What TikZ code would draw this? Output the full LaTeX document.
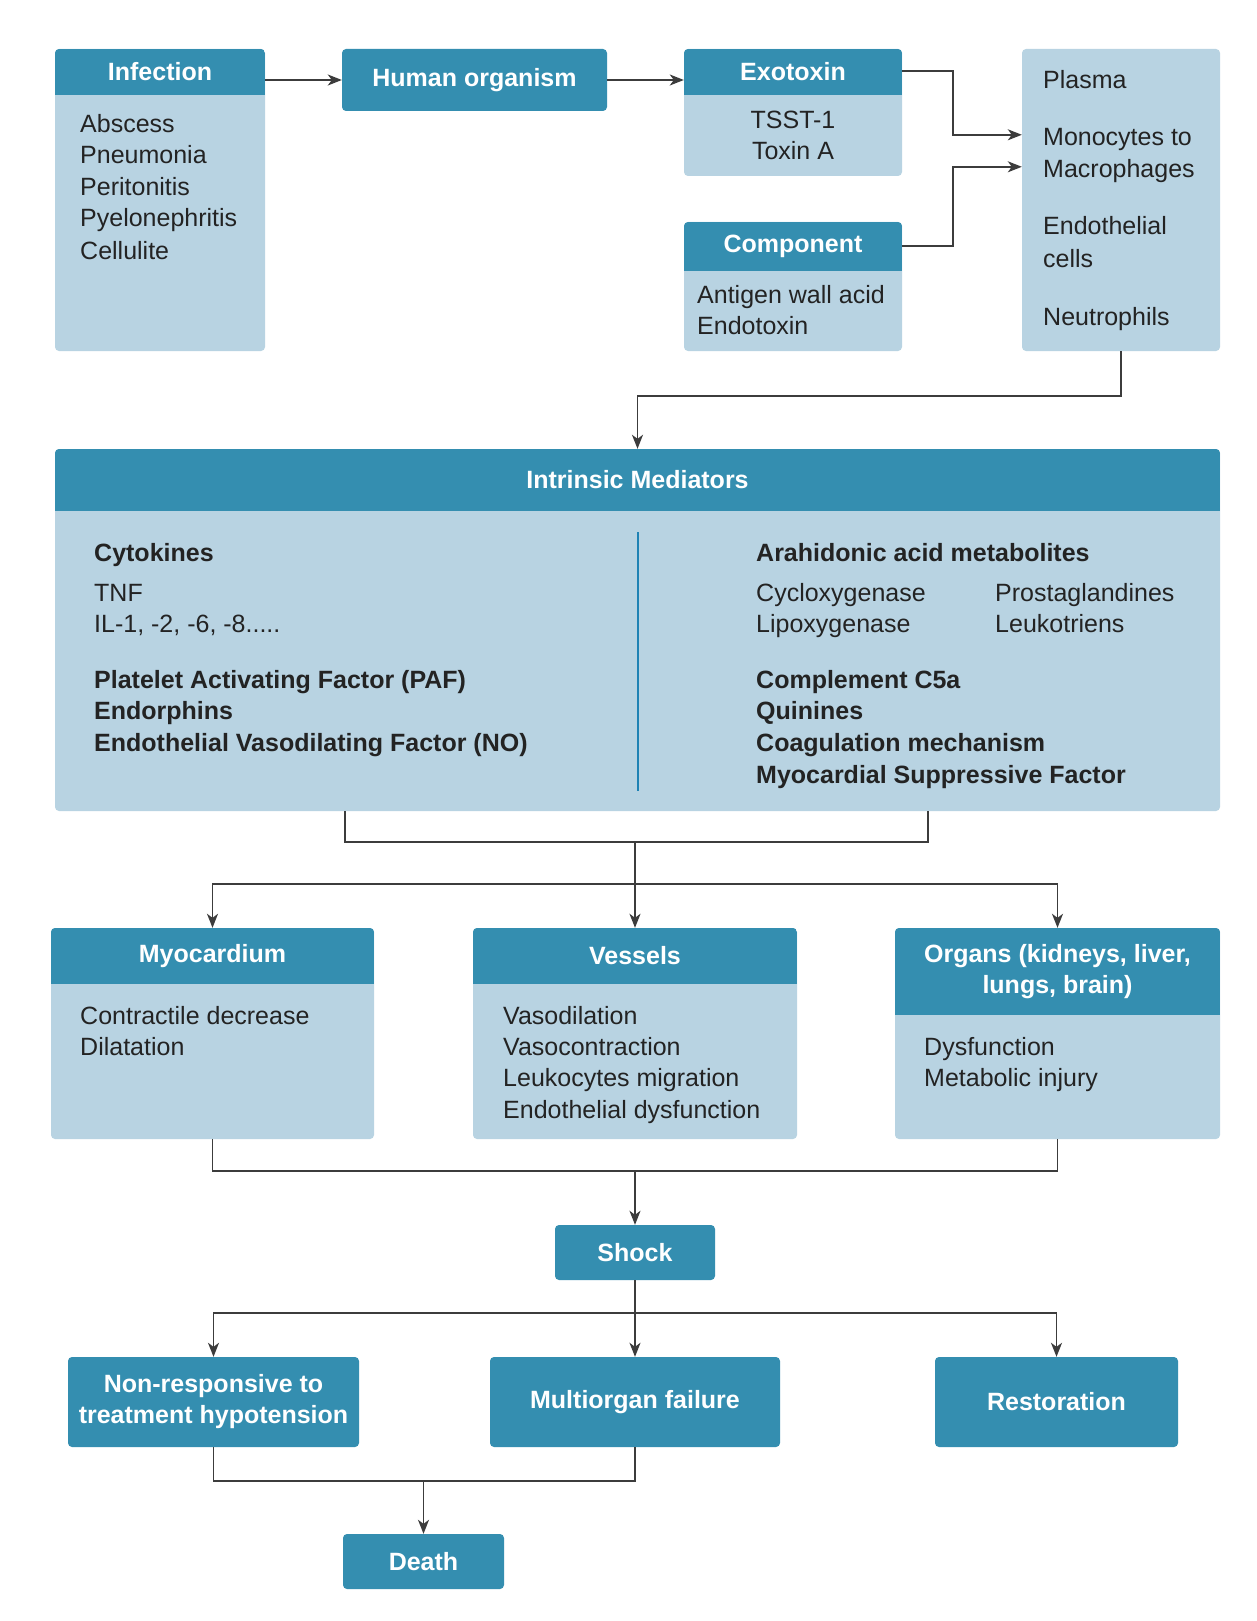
\documentclass[tikz,border=0pt]{standalone}
\usepackage{fontspec}
\setmainfont{Liberation Sans}
\usetikzlibrary{arrows.meta,fit}
\definecolor{hd}{RGB}{52,142,176}
\definecolor{bd}{RGB}{184,211,226}
\definecolor{tx}{RGB}{35,35,35}
\definecolor{ln}{RGB}{60,60,60}
\definecolor{dv}{RGB}{30,130,180}
\tikzset{
 bodyc/.style={fill=bd, rounded corners=4pt, inner sep=0pt},
 headc/.style={fill=hd, rounded corners=4pt, inner sep=0pt},
 ttl/.style={text=white, font=\bfseries\fontsize{25}{31}\selectfont, align=center, inner sep=0pt},
 txt/.style={anchor=base west, text=tx, font=\fontsize{25}{31}\selectfont, inner sep=0pt},
 ctxt/.style={txt, anchor=base},
 btxt/.style={txt, font=\bfseries\fontsize{25}{31}\selectfont},
 conn/.style={draw=ln, line width=1.6pt},
 arr/.style={conn, -{Stealth[length=14pt,width=11pt,inset=4pt]}},
}
\newcommand\hdbox[7]{%
  \node[bodyc, fit={(#2,#3) (#4,#5)}] (#1) {};
  \begin{scope}
    \clip[rounded corners=4pt] (#2,#3) rectangle (#4,#5);
    \fill[hd] (#2,#3) rectangle (#4,#6);
  \end{scope}
  \node[ttl] (#1t) at ({(#2+#4)/2},{(#3+#6)/2}) {#7};
}
\newcommand\plbox[6]{%
  \node[headc, fit={(#2,#3) (#4,#5)}] (#1) {};
  \node[ttl] (#1t) at (#1.center) {#6};
}
\begin{document}
\begin{tikzpicture}[x=1pt,y=-1pt]
\useasboundingbox[fill=white] (0,0) rectangle (1256,1621);

% top row
\hdbox{inf}{55}{49}{265}{351}{95}{Infection}
\plbox{hum}{342}{49}{607}{111}{Human organism}
\hdbox{exo}{684}{49}{902}{176}{95}{Exotoxin}
\hdbox{comp}{684}{222}{902}{351}{271}{Component}
\node[bodyc, fit={(1022,49) (1220,351)}] (rb) {};

\node[txt] (i1) at (80,133) {Abscess};
\node[txt] (i2) at (80,164) {Pneumonia};
\node[txt] (i3) at (80,196) {Peritonitis};
\node[txt] (i4) at (80,227) {Pyelonephritis};
\node[txt] (i5) at (80,259) {Cellulite};

\node[ctxt] (e1) at (793,129) {TSST-1};
\node[ctxt] (e2) at (793,160) {Toxin A};

\node[txt] (c1) at (697,303) {Antigen wall acid};
\node[txt] (c2) at (697,334) {Endotoxin};

\node[txt] (r1) at (1043,89) {Plasma};
\node[txt] (r2) at (1043,146) {Monocytes to};
\node[txt] (r3) at (1043,178) {Macrophages};
\node[txt] (r4) at (1043,235) {Endothelial};
\node[txt] (r5) at (1043,267) {cells};
\node[txt] (r6) at (1043,325) {Neutrophils};

% intrinsic mediators
\hdbox{im}{55}{449}{1220}{811}{511}{Intrinsic Mediators}
\draw[dv, line width=1.2pt] (638,532) -- (638,791);

\node[btxt] (m1) at (94,561) {Cytokines};
\node[txt] (m2) at (94,601) {TNF};
\node[txt] (m3) at (94,632) {IL-1, -2, -6, -8.....};
\node[btxt] (m4) at (94,688) {Platelet Activating Factor (PAF)};
\node[btxt] (m5) at (94,719) {Endorphins};
\node[btxt] (m6) at (94,751) {Endothelial Vasodilating Factor (NO)};

\node[btxt] (n1) at (756,561) {Arahidonic acid metabolites};
\node[txt] (n2) at (756,601) {Cycloxygenase};
\node[txt] (n3) at (995,601) {Prostaglandines};
\node[txt] (n4) at (756,632) {Lipoxygenase};
\node[txt] (n5) at (995,632) {Leukotriens};
\node[btxt] (n6) at (756,688) {Complement C5a};
\node[btxt] (n7) at (756,719) {Quinines};
\node[btxt] (n8) at (756,751) {Coagulation mechanism};
\node[btxt] (n9) at (756,783) {Myocardial Suppressive Factor};

% third row
\hdbox{myo}{51}{928}{374}{1139}{984}{Myocardium}
\hdbox{ves}{473}{928}{797}{1139}{984}{Vessels}
\hdbox{org}{895}{928}{1220}{1139}{1015}{Organs (kidneys, liver,\\ lungs, brain)}

\node[txt] (y1) at (80,1024) {Contractile decrease};
\node[txt] (y2) at (80,1055) {Dilatation};
\node[txt] (v1) at (503,1024) {Vasodilation};
\node[txt] (v2) at (503,1055) {Vasocontraction};
\node[txt] (v3) at (503,1086) {Leukocytes migration};
\node[txt] (v4) at (503,1118) {Endothelial dysfunction};
\node[txt] (o1) at (924,1055) {Dysfunction};
\node[txt] (o2) at (924,1086) {Metabolic injury};

% lower boxes
\plbox{shock}{555}{1225}{715}{1280}{Shock}
\plbox{nr}{68}{1357}{359}{1447}{Non-responsive to\\treatment hypotension}
\plbox{mo}{490}{1357}{780}{1447}{Multiorgan failure}
\plbox{rest}{935}{1357}{1178}{1447}{Restoration}
\plbox{death}{343}{1534}{504}{1589}{Death}

% connectors
\draw[arr] (inf.east |- hum.west) -- (hum.west);
\draw[arr] (hum.east) -- (exo.west |- hum.east);
\draw[arr] ([yshift=-22pt]exo.north east) -- ++(51,0) |- ([yshift=-86pt]rb.north west);
\draw[arr] ([yshift=-24pt]comp.north east) -- ++(51,0) |- ([yshift=-118pt]rb.north west);
\draw[arr] (rb.south) -- ++(0,45) -| (im.north);

\coordinate (j1) at (635,842);
\coordinate (j2) at (635,884);
\draw[conn] ([xshift=290pt]im.south west) |- (j1) -| ([xshift=-292pt]im.south east);
\draw[conn] (j1) -- (j2);
\draw[arr] (j2) -| (myo.north);
\draw[arr] (j2) -| (org.north);
\draw[arr] (j2) -- (ves.north);

\coordinate (j3) at (635,1171);
\draw[conn] (myo.south) |- (j3) -| (org.south);
\draw[arr] (j3) -- (shock.north);

\coordinate (j4) at (635,1313);
\draw[conn] (shock.south) -- (j4);
\draw[arr] (j4) -| (nr.north);
\draw[arr] (j4) -| (rest.north);
\draw[arr] (j4) -- (mo.north);

\coordinate (j5) at (635,1481);
\draw[conn] (nr.south) |- (j5) -- (mo.south);
\draw[arr] (death.north |- j5) -- (death.north);
\end{tikzpicture}
\end{document}
